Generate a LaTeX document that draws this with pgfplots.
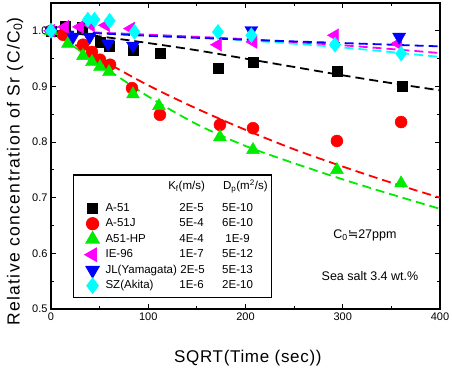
\documentclass[border=0pt]{standalone}
\usepackage{pgfplots}
\pgfplotsset{compat=1.18}
\usepackage{fontspec}
\setmainfont{Liberation Sans}
\newfontfamily\symfont{DejaVu Sans}
\definecolor{cblack}{RGB}{0,0,0}
\definecolor{cred}{RGB}{255,0,0}
\definecolor{cgreen}{RGB}{0,235,0}
\definecolor{cmag}{RGB}{255,0,255}
\definecolor{cblue}{RGB}{0,0,255}
\definecolor{ccyan}{RGB}{0,255,255}
\begin{document}
\begin{tikzpicture}
\begin{axis}[
  scale only axis, width=389pt, height=306pt,
  xmin=0, xmax=400, ymin=0.5, ymax=1.05,
  xtick={0,100,200,300,400}, minor xtick={50,150,250,350},
  ytick={0.5,0.6,0.7,0.8,0.9,1.0}, minor ytick={0.55,0.65,0.75,0.85,0.95},
  tick align=inside, major tick length=5pt, minor tick length=3pt,
  axis line style={line width=1.6pt},
  every tick/.style={black, line width=1.1pt},
  /pgf/number format/assume math mode=true,
  tick label style={font=\fontsize{11}{12}\selectfont},
  yticklabel style={/pgf/number format/.cd, fixed, fixed zerofill, precision=1},
  xticklabel style={/pgf/number format/.cd, fixed, precision=0},
  xlabel={SQRT(Time (sec))},
  xlabel style={at={(axis description cs:0.506,-0.16)}, anchor=center,
    font=\fontsize{17}{20}\selectfont\addfontfeature{LetterSpace=4}},
  ylabel={Relative concentration of Sr (C/C\textsubscript{0})},
  ylabel style={at={(axis description cs:-0.0925,0.448)}, anchor=center,
    font=\fontsize{17.5}{20}\selectfont\addfontfeature{LetterSpace=8}},
  legend style={at={(axis cs:22.6,0.742)}, anchor=north west,
    draw=black, line width=1.2pt,
    font=\fontsize{11.5}{12}\selectfont,
    nodes={text height=9.5pt, text depth=3pt, inner ysep=1.5pt},
    inner xsep=2pt, inner ysep=4pt},
  legend cell align=left,
  legend image code/.code={\path[draw=none,fill=none] (0pt,-5pt) rectangle (28pt,5pt);
    \draw[#1] plot coordinates {(17pt,0pt)};},
]
\addlegendimage{empty legend}
\addlegendentry[text depth=9pt]{\makebox[56pt][l]{}\makebox[50pt][c]{K\textsubscript{f}(m/s)}\makebox[56pt][r]{D\textsubscript{p}(m\textsuperscript{2}/s)}}

% A-51
\addplot[only marks, mark=square*, mark size=5pt, color=cblack] coordinates {
(0,1.0) (14.4,1.009) (31.9,1.007) (50.4,0.980) (59.5,0.972) (84.3,0.966) (112,0.960)
(171.7,0.932) (207.7,0.944) (294,0.928) (361,0.901)};
\addlegendentry{\makebox[66pt][l]{A-51}\makebox[40pt][c]{2E-5}\makebox[52pt][c]{5E-10}}
% A-51J
\addplot[only marks, mark=*, mark size=6pt, color=cred] coordinates {
(0,1.0) (12.3,0.993) (32.9,0.975) (42.1,0.962) (50.4,0.948) (60.7,0.939) (83.3,0.897)
(112,0.849) (173.7,0.831) (207.7,0.825) (294,0.802) (360,0.836)};
\addlegendentry{\makebox[66pt][l]{A-51J}\makebox[40pt][c]{5E-4}\makebox[52pt][c]{6E-10}}
% A51-HP
\addplot[only marks, mark=triangle*, mark size=7.5pt, color=cgreen] coordinates {
(0,1.0) (17.5,0.977) (32.9,0.955) (42.1,0.944) (50.4,0.935) (59.6,0.926) (84.3,0.886)
(111,0.865) (173.7,0.809) (207.7,0.786) (294,0.750) (360,0.726)};
\addlegendentry{\makebox[66pt][l]{A51-HP}\makebox[40pt][c]{4E-4}\makebox[52pt][c]{1E-9}}
% IE-96
\addplot[only marks, mark=triangle*, mark size=7.5pt, mark options={rotate=90}, color=cmag] coordinates {
(0,1.0) (14.3,1.007) (29.7,1.007) (41.1,1.010) (56.5,1.010) (82.2,1.004)
(171.7,0.975) (208,0.980) (292,0.992) (357,0.977)};
\addlegendentry{\makebox[66pt][l]{IE-96}\makebox[40pt][c]{1E-7}\makebox[52pt][c]{5E-12}}
% JL(Yamagata)
\addplot[only marks, mark=triangle*, mark size=7.5pt, mark options={rotate=180}, color=cblue] coordinates {
(0,1.0) (22.6,0.989) (39.8,0.989) (58.6,0.977) (84.3,0.973) (206,1.001) (358,0.989)};
\addlegendentry{\makebox[66pt][l]{JL(Yamagata)}\makebox[40pt][c]{\,2E-5}\makebox[52pt][c]{5E-13}}
% SZ(Akita)
\addplot[only marks, mark=diamond*, mark size=7.5pt, color=ccyan] coordinates {
(0,1.0) (37.9,1.020) (44.7,1.020) (60.3,1.018) (85.9,0.998) (171.7,0.998) (206,0.992)
(292,0.975) (360,0.959)};
\addlegendentry{\makebox[66pt][l]{SZ(Akita)}\makebox[40pt][c]{1E-6}\makebox[52pt][c]{2E-10}}

% fitted curves
\pgfplotsset{fitline/.style={forget plot, smooth, line width=1.8pt, dash pattern=on 9pt off 5pt, no marks}}
\addplot[fitline, color=cblack] coordinates {(0,1.0) (50,0.99) (100,0.978) (150,0.965) (200,0.95) (250,0.935) (300,0.92) (350,0.906) (400,0.893)};
\addplot[fitline, color=cgreen] coordinates {(0,1.0) (50,0.94) (100,0.882) (150,0.832) (200,0.793) (250,0.762) (300,0.733) (350,0.706) (400,0.68)};
\addplot[fitline, color=cred] coordinates {(0,1.0) (50,0.95) (100,0.902) (150,0.86) (200,0.822) (250,0.787) (300,0.756) (350,0.727) (400,0.70)};
\addplot[fitline, color=ccyan] coordinates {(0,1.0) (100,0.993) (200,0.983) (300,0.970) (400,0.953)};
\addplot[fitline, color=cmag] coordinates {(0,1.0) (100,0.993) (200,0.985) (300,0.974) (400,0.96)};
\addplot[fitline, color=cblue] coordinates {(0,1.0) (100,0.991) (200,0.984) (300,0.978) (400,0.972)};

\node[font=\fontsize{12.5}{14}\selectfont] at (axis cs:322.8,0.632) {C\textsubscript{0}{\symfont ≒}27ppm};
\node[font=\fontsize{12.5}{14}\selectfont] at (axis cs:328,0.560) {Sea salt 3.4 wt.\%};
\coordinate (SW) at (rel axis cs:0,0);
\coordinate (NE) at (rel axis cs:1,1);
\end{axis}
\pgfresetboundingbox
\path[use as bounding box] ([xshift=-51pt,yshift=-60pt]SW) rectangle ([xshift=12pt,yshift=3pt]NE);
\end{tikzpicture}
\end{document}
